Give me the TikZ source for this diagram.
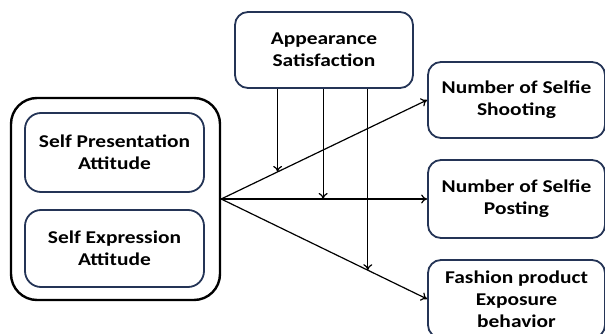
\documentclass[tikz,border=0pt]{standalone}
\usepackage{fontspec}
\setmainfont{Carlito}[FakeStretch=1.19]
\usetikzlibrary{arrows.meta}
\definecolor{boxnavy}{RGB}{36,52,86}
\tikzset{
  varbox/.style={draw=boxnavy,line width=1.8pt,rounded corners=13pt,align=center,
    font=\bfseries\fontsize{18}{22}\selectfont,inner sep=0pt},
  groupbox/.style={draw=black,line width=2.4pt,rounded corners=26pt},
  path arrow/.style={line width=1.2pt,-{To[length=6pt,width=9pt]}}
}
\begin{document}
\begin{tikzpicture}[x=1pt,y=-1pt]
	\useasboundingbox (0,0) rectangle (605,334);
	% independent variables
	\node[groupbox,minimum width=209pt,minimum height=202pt] (outer) at (115.5,199) {};
	\node[varbox,rounded corners=16pt,minimum width=179pt,minimum height=79pt] (pres) at (114.5,152.5) {Self Presentation\\Attitude};
	\node[varbox,rounded corners=16pt,minimum width=179pt,minimum height=77pt] (expr) at (114.5,248.5) {Self Expression\\Attitude};
	% moderator
	\node[varbox,minimum width=178pt,minimum height=76pt] (appear) at (324,50) {Appearance\\Satisfaction};
	% dependent variables
	\node[varbox,minimum width=177pt,minimum height=76pt] (shoot) at (516.5,100) {Number of Selfie\\Shooting};
	\node[varbox,minimum width=177pt,minimum height=78pt] (post) at (516.5,199) {Number of Selfie\\Posting};
	\node[varbox,minimum width=177pt,minimum height=78pt] (fash) at (516.5,299) {Fashion product\\Exposure\\behavior};
	% paths
	\draw[path arrow] (outer.east) -- coordinate[pos=0.274] (m1) (shoot.west);
	\draw[path arrow] (outer.east) -- coordinate[pos=0.495] (m2) (post.west);
	\draw[path arrow] (outer.east) -- coordinate[pos=0.712] (m3) (fash.west);
	\draw[path arrow] (appear.south -| m1) -- (m1);
	\draw[path arrow] (appear.south -| m2) -- (m2);
	\draw[path arrow] (appear.south -| m3) -- (m3);
\end{tikzpicture}
\end{document}
